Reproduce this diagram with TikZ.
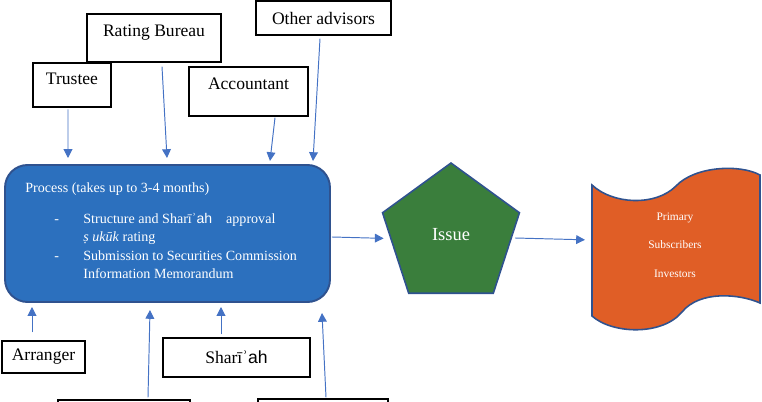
\documentclass[tikz,border=0pt]{standalone}
\usepackage{fontspec}
\setmainfont{Liberation Serif}
\newfontfamily\arialfont{Liberation Sans}
\usetikzlibrary{arrows.meta,shapes.geometric}
\definecolor{procblue}{RGB}{44,112,190}
\definecolor{edgeblue}{RGB}{47,82,143}
\definecolor{issuegreen}{RGB}{58,126,60}
\definecolor{tapeorange}{RGB}{224,94,38}
\definecolor{arrowblue}{RGB}{68,114,196}
\tikzset{
  box/.style={draw=black,line width=0.8pt,fill=white,inner sep=0pt,font=\fontsize{10}{12}\selectfont},
  lift/.style={text height=7pt,text depth=#1},
  flow/.style={draw=arrowblue,line width=0.55pt,-{Triangle[length=5pt,width=5pt]}},
  proctext/.style={text=white,anchor=base west,inner sep=0pt,font=\fontsize{8}{10}\selectfont}
}
\begin{document}
\begin{tikzpicture}[x=0.02cm,y=-0.02cm]
\clip (0,0) rectangle (762,402);
\node[box,lift=7.6pt,minimum width=1.56cm,minimum height=0.88cm] (trustee) at (72,85) {Trustee};
\node[box,lift=8.8pt,minimum width=2.68cm,minimum height=0.96cm] (rating) at (154,38) {Rating Bureau};
\node[box,lift=9.2pt,minimum width=2.38cm,minimum height=0.98cm] (accountant) at (248.5,91.5) {Accountant};
\node[box,minimum width=2.7cm,minimum height=0.68cm] (others) at (323.5,18) {Other advisors};
\node[box,minimum width=1.66cm,minimum height=0.64cm] (arranger) at (43.5,357) {Arranger};
\node[box,minimum width=2.94cm,minimum height=0.78cm] (sharia) at (236.5,357.5) {Sharīʾ{\arialfont ah}};
\node[box,minimum width=2.64cm,minimum height=0.8cm] (lowleft) at (124,420) {};
\node[box,minimum width=2.6cm,minimum height=0.8cm] (lowright) at (323,419) {};

\node[draw=edgeblue,line width=1.1pt,fill=procblue,rounded corners=0.45cm,minimum width=6.5cm,minimum height=2.74cm] (process) at (167.5,233.5) {};
\node[proctext] (ptitle) at (25,193) {Process (takes up to 3-4 months)};
\node[proctext] (pdash1) at (54,224) {-};
\node[proctext] (pline1) at (83,224) {Structure and Sharīʾ{\arialfont ah}\quad approval};
\node[proctext] (pline2) at (83,242) {\textit{ṣ ukūk} rating};
\node[proctext] (pdash2) at (54,261) {-};
\node[proctext] (pline3) at (83,261) {Submission to Securities Commission};
\node[proctext] (pline4) at (83,279) {Information Memorandum};

\node[regular polygon,regular polygon sides=5,draw=edgeblue,line width=0.9pt,fill=issuegreen,inner sep=0pt,minimum size=2.88cm,text=white,font=\fontsize{10.5}{12}\selectfont] (issue) at (451,235) {Issue};

\filldraw[fill=tapeorange,draw=edgeblue,line width=0.9pt]
  (592,185) .. controls (612,204) and (655,207) .. (676,186)
  .. controls (695,166) and (740,164) .. (760,175)
  -- (760,303)
  .. controls (740,294) and (700,290) .. (682,312)
  .. controls (662,336) and (612,334) .. (592,316) -- cycle;
\node[text=white,align=center,font=\fontsize{6.5}{16.2}\selectfont] (investors) at (675,245) {Primary\\Subscribers\\Investors};
\coordinate (tape) at (592,240);

\foreach \n/\x/\y in {tr/68/158,rb/167/158,ac/270/161,oa/313/161,ar/32/307,bl/150/310,sh/221/307,br/322/313}
  \coordinate (\n) at (\x,\y);
\draw[flow] ([xshift=-0.08cm,yshift=-1pt]trustee.south) -- (tr);
\draw[flow] ([shift={(8,4)}]rating.south) -- (rb);
\draw[flow] ([shift={(26.5,1)}]accountant.south) -- (ac);
\draw[flow] ([shift={(-3.5,3)}]others.south) -- (oa);
\draw[flow] ([shift={(-11.5,-8)}]arranger.north) -- (ar);
\draw[flow] ([shift={(-15.5,-3)}]sharia.north) -- (sh);
\draw[flow] ([shift={(24,-2)}]lowleft.north) -- (bl);
\draw[flow] ([shift={(3,-1)}]lowright.north) -- (br);
\draw[flow,shorten >=3pt] ([shift={(1,3.5)}]process.east) -- ([yshift=-2]issue.west);
\draw[flow,shorten >=4pt] ([shift={(2,3)}]issue.east) -- (tape);
\end{tikzpicture}
\end{document}
